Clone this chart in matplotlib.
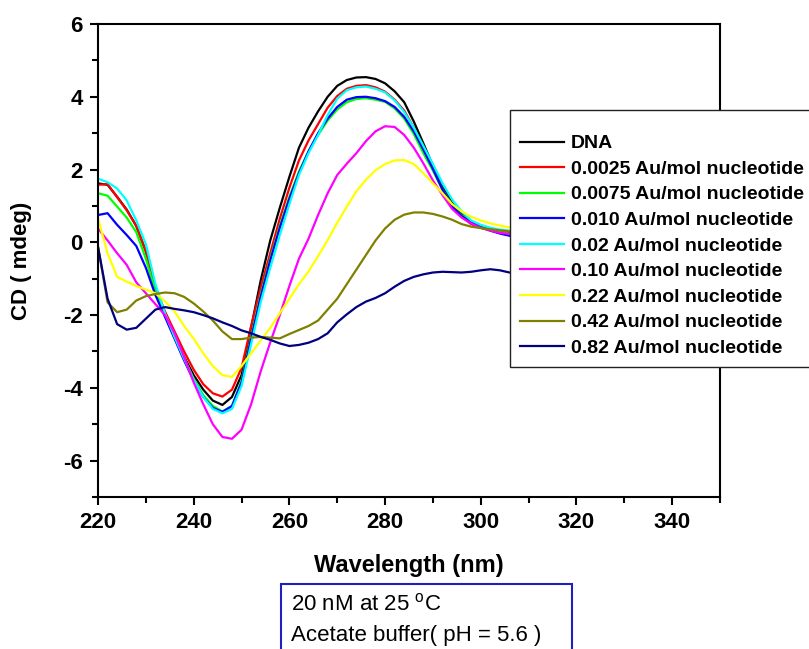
import matplotlib
matplotlib.use("Agg")
import matplotlib.pyplot as plt
from matplotlib.patches import Rectangle
from matplotlib.ticker import MultipleLocator

plt.rcParams['font.family'] = ['Liberation Sans', 'DejaVu Sans']
plt.rcParams['mathtext.fontset'] = 'custom'
plt.rcParams['mathtext.rm'] = 'Liberation Sans'
plt.rcParams['axes.unicode_minus'] = False

# wavelength grid (nm) the curves were read at
wavelength = [220, 222, 224, 226, 228, 230, 232, 234, 236, 238, 240, 242, 244, 246,
              248, 250, 252, 254, 256, 258, 260, 262, 264, 266, 268, 270, 272, 274,
              276, 278, 280, 282, 284, 286, 288, 290, 292, 294, 296, 298, 300, 302,
              304, 306, 308, 310, 320, 330, 340, 350]

cd_dna = [1.62, 1.58, 1.25, 0.90, 0.45, -0.25, -1.30, -1.95, -2.55, -3.15, -3.65, -4.05, -4.35, -4.47,
          -4.25, -3.65, -2.35, -1.05, 0.05, 0.95, 1.80, 2.60, 3.15, 3.60, 4.00, 4.30, 4.46, 4.53,
          4.54, 4.49, 4.37, 4.15, 3.85, 3.32, 2.72, 2.10, 1.55, 1.08, 0.78, 0.58, 0.46, 0.38,
          0.32, 0.27, 0.25, 0.23, 0.18, 0.12, 0.08, 0.05]
cd_0025 = [1.58, 1.60, 1.24, 0.88, 0.45, -0.25, -1.25, -1.90, -2.45, -3.00, -3.50, -3.90, -4.15, -4.24,
           -4.05, -3.45, -2.30, -1.25, -0.30, 0.65, 1.50, 2.25, 2.80, 3.25, 3.70, 4.02, 4.22, 4.30,
           4.32, 4.26, 4.14, 3.92, 3.62, 3.15, 2.58, 2.00, 1.45, 1.00, 0.70, 0.50, 0.40, 0.33,
           0.28, 0.25, 0.23, 0.21, 0.16, 0.11, 0.07, 0.04]
cd_0075 = [1.35, 1.28, 0.98, 0.68, 0.28, -0.45, -1.35, -2.00, -2.60, -3.20, -3.75, -4.20, -4.50, -4.65,
           -4.50, -3.80, -2.60, -1.45, -0.45, 0.45, 1.25, 1.95, 2.50, 2.95, 3.35, 3.65, 3.85, 3.94,
           3.96, 3.92, 3.86, 3.68, 3.40, 2.98, 2.45, 1.97, 1.45, 1.02, 0.74, 0.58, 0.45, 0.36,
           0.28, 0.23, 0.21, 0.19, 0.14, 0.10, 0.06, 0.04]
cd_010 = [0.75, 0.80, 0.48, 0.20, -0.10, -0.70, -1.45, -2.05, -2.65, -3.25, -3.80, -4.25, -4.55, -4.66,
          -4.50, -3.85, -2.65, -1.50, -0.50, 0.40, 1.20, 1.90, 2.50, 3.00, 3.40, 3.72, 3.92, 3.99,
          4.00, 3.96, 3.88, 3.72, 3.45, 3.05, 2.55, 2.02, 1.45, 1.00, 0.72, 0.55, 0.42, 0.32,
          0.24, 0.18, 0.16, 0.14, 0.10, 0.07, 0.05, 0.03]
cd_02 = [1.75, 1.65, 1.48, 1.15, 0.60, -0.05, -1.15, -1.95, -2.60, -3.20, -3.78, -4.25, -4.58, -4.70,
         -4.58, -3.95, -2.80, -1.65, -0.70, 0.20, 1.05, 1.85, 2.45, 2.95, 3.50, 3.95, 4.18, 4.26,
         4.28, 4.22, 4.12, 3.90, 3.58, 3.15, 2.65, 2.15, 1.62, 1.18, 0.85, 0.60, 0.48, 0.40,
         0.35, 0.32, 0.30, 0.28, 0.22, 0.16, 0.11, 0.08]
cd_10 = [0.38, 0.05, -0.30, -0.62, -1.10, -1.40, -1.70, -2.00, -2.50, -3.15, -3.85, -4.45, -5.00, -5.35,
         -5.40, -5.15, -4.45, -3.55, -2.75, -2.00, -1.20, -0.45, 0.10, 0.75, 1.35, 1.85, 2.16, 2.45,
         2.78, 3.05, 3.19, 3.17, 2.95, 2.60, 2.17, 1.70, 1.30, 0.92, 0.68, 0.52, 0.40, 0.32,
         0.26, 0.23, 0.21, 0.19, 0.14, 0.10, 0.07, 0.05]
cd_22 = [0.66, -0.30, -0.95, -1.08, -1.20, -1.30, -1.40, -1.62, -1.90, -2.30, -2.65, -3.05, -3.40, -3.65,
         -3.70, -3.40, -3.05, -2.70, -2.35, -1.95, -1.55, -1.15, -0.80, -0.38, 0.06, 0.54, 0.98, 1.40,
         1.72, 1.98, 2.15, 2.25, 2.26, 2.15, 1.90, 1.62, 1.35, 1.05, 0.85, 0.70, 0.60, 0.52,
         0.46, 0.41, 0.38, 0.35, 0.27, 0.20, 0.15, 0.10]
cd_42 = [-0.12, -1.65, -1.92, -1.85, -1.60, -1.48, -1.42, -1.38, -1.40, -1.50, -1.68, -1.90, -2.15, -2.45,
         -2.66, -2.66, -2.62, -2.60, -2.62, -2.64, -2.52, -2.41, -2.30, -2.15, -1.85, -1.55, -1.15, -0.75,
         -0.35, 0.05, 0.38, 0.62, 0.76, 0.82, 0.82, 0.78, 0.71, 0.62, 0.50, 0.43, 0.39, 0.36,
         0.33, 0.30, 0.28, 0.26, 0.20, 0.15, 0.10, 0.07]
cd_82 = [-0.12, -1.55, -2.25, -2.40, -2.35, -2.10, -1.85, -1.78, -1.83, -1.87, -1.92, -2.00, -2.09, -2.20,
         -2.30, -2.42, -2.50, -2.60, -2.68, -2.78, -2.85, -2.82, -2.76, -2.66, -2.50, -2.20, -1.98, -1.78,
         -1.63, -1.53, -1.40, -1.22, -1.06, -0.95, -0.88, -0.83, -0.81, -0.82, -0.83, -0.81, -0.77, -0.74,
         -0.77, -0.83, -0.85, -0.84, -0.80, -0.78, -0.76, -0.75]

series = [cd_dna, cd_0025, cd_0075, cd_010, cd_02, cd_10, cd_22, cd_42, cd_82]
labels = ["DNA", "0.0025 Au/mol nucleotide", "0.0075 Au/mol nucleotide",
          "0.010 Au/mol nucleotide", "0.02 Au/mol nucleotide", "0.10 Au/mol nucleotide",
          "0.22 Au/mol nucleotide", "0.42 Au/mol nucleotide", "0.82 Au/mol nucleotide"]
colors = ["#000000", "#ff0000", "#00ff00", "#0000ff", "#00ffff", "#ff00ff",
          "#ffff00", "#808000", "#000080"]

fig = plt.figure(figsize=(8.09, 6.49), dpi=100)
ax = fig.add_axes([98 / 809, 152 / 649, 622 / 809, 473 / 649])

for y, lab, c in zip(series, labels, colors):
    ax.plot(wavelength, y, color=c, lw=1.6, label=lab)

ax.set_xlim(220, 350)
ax.set_ylim(-7, 6)
ax.xaxis.set_minor_locator(MultipleLocator(10))
ax.yaxis.set_major_locator(MultipleLocator(2))
ax.yaxis.set_minor_locator(MultipleLocator(1))
ax.set_xticks(range(220, 341, 20))
ax.tick_params(which='both', direction='out', width=1.5, top=False, right=False)
ax.tick_params(which='major', length=6, labelsize=16, pad=5)
ax.tick_params(which='minor', length=4)
for t in ax.get_xticklabels() + ax.get_yticklabels():
    t.set_fontweight('bold')
for s in ax.spines.values():
    s.set_linewidth(1.5)

ax.set_xlabel("Wavelength (nm)", fontsize=17, fontweight='bold', labelpad=15)
ax.set_ylabel("CD ( mdeg)", fontsize=16, fontweight='bold', labelpad=22)

leg = ax.legend(loc='upper left', bbox_to_anchor=(510 / 809, 1 - 110 / 649),
                bbox_transform=fig.transFigure, prop={'weight': 'bold', 'size': 14},
                frameon=True, fancybox=False, edgecolor='#222222', framealpha=1,
                borderpad=0.5, borderaxespad=0, labelspacing=0.41, handlelength=2.3,
                handletextpad=0.35, title=' ', title_fontsize=6)
leg.get_frame().set_linewidth(1.0)

# info box under the axis title
fig.patches.append(Rectangle((281 / 809, -0.05), 291 / 809, 0.05 + (649 - 584) / 649,
                             transform=fig.transFigure, fill=False, edgecolor='#2020c0',
                             lw=1.5, clip_on=False))
fig.text(291 / 809, 1 - 604 / 649, r"20 nM at 25 $^{\mathrm{o}}$C", fontsize=16, va='center')
fig.text(291 / 809, 1 - 635 / 649, "Acetate buffer( pH = 5.6 )", fontsize=16, va='center')

fig.savefig("out.png", dpi=100)
